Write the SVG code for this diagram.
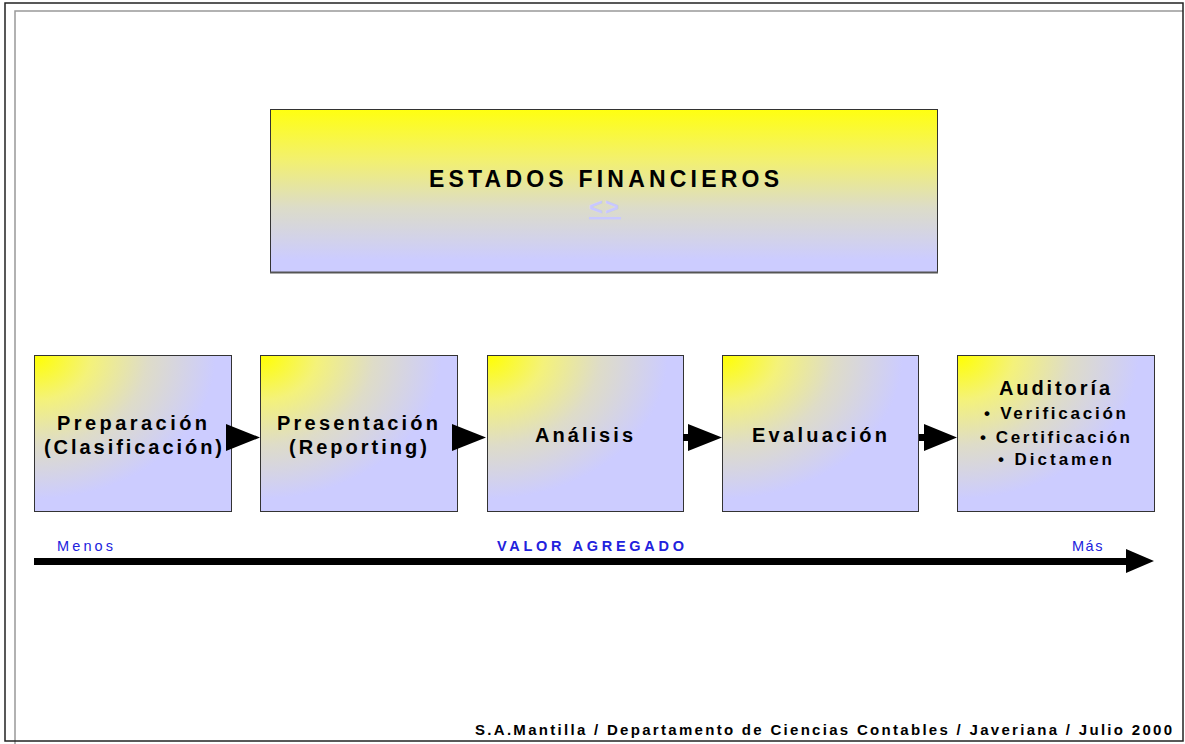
<svg xmlns="http://www.w3.org/2000/svg" width="1185" height="744" viewBox="0 0 1185 744">
<defs>
<style>
text{font-family:"Liberation Sans",Arial,sans-serif;}
.lbl{font-weight:bold;font-size:20px;fill:#000;text-anchor:middle;}
.sub{font-weight:bold;font-size:17px;fill:#000;text-anchor:middle;}
.blue{font-size:14.5px;fill:#2222dd;}
.box{stroke:#333;stroke-width:1;fill:url(#corner);}
.arrow{fill:#000;}
</style>
<linearGradient id="vert" x1="0" y1="0" x2="0" y2="1">
<stop offset="0" stop-color="#ffff10"/>
<stop offset="0.3" stop-color="#f3f16c"/>
<stop offset="0.6" stop-color="#dcdcc8"/>
<stop offset="0.92" stop-color="#ccccff"/>
<stop offset="1" stop-color="#ccccff"/>
</linearGradient>
<radialGradient id="corner" cx="0" cy="0" r="1.15" fx="0" fy="0">
<stop offset="0" stop-color="#ffff00"/>
<stop offset="0.25" stop-color="#f4f27a"/>
<stop offset="0.5" stop-color="#dedcc8"/>
<stop offset="0.8" stop-color="#ccccff"/>
<stop offset="1" stop-color="#ccccff"/>
</radialGradient>
</defs>
<rect x="0" y="0" width="1185" height="744" fill="#fff"/>
<g id="frame" fill="none">
<polyline points="15,744 15,11 1183,11" stroke="#999" stroke-width="1.5"/>
<rect x="5" y="3" width="1178" height="738" stroke="#222" stroke-width="1.5"/>
</g>
<g id="estados">
<rect x="270.5" y="109.5" width="667" height="163" fill="url(#vert)" stroke="#333" stroke-width="1"/>
<line x1="270" y1="272.5" x2="938" y2="272.5" stroke="#555" stroke-width="2"/>
<text x="604" y="187" font-size="23" font-weight="bold" text-anchor="middle" textLength="350" lengthAdjust="spacing">ESTADOS FINANCIEROS</text>
<text x="605" y="215" font-size="24" font-weight="bold" fill="#c8c8ff" text-anchor="middle" text-decoration="underline" letter-spacing="2">&lt;&gt;</text>
</g>
<g id="preparacion">
<rect class="box" x="34.5" y="355.5" width="197" height="156"/>
<text class="lbl" x="132" y="430" textLength="150" lengthAdjust="spacing">Preparación</text>
<text class="lbl" x="133" y="454" textLength="178" lengthAdjust="spacing">(Clasificación)</text>
</g>
<g id="presentacion">
<rect class="box" x="260.5" y="355.5" width="197" height="156"/>
<text class="lbl" x="357.5" y="430" textLength="161" lengthAdjust="spacing">Presentación</text>
<text class="lbl" x="358" y="454" textLength="138" lengthAdjust="spacing">(Reporting)</text>
</g>
<g id="analisis">
<rect class="box" x="487.5" y="355.5" width="196" height="156"/>
<text class="lbl" x="584" y="442" textLength="98" lengthAdjust="spacing">Análisis</text>
</g>
<g id="evaluacion">
<rect class="box" x="722.5" y="355.5" width="196" height="156"/>
<text class="lbl" x="819.5" y="442" textLength="135" lengthAdjust="spacing">Evaluación</text>
</g>
<g id="auditoria">
<rect class="box" x="957.5" y="355.5" width="197" height="156"/>
<text class="lbl" x="1054.5" y="395" textLength="111" lengthAdjust="spacing">Auditoría</text>
<text class="sub" x="1055" y="419" textLength="142" lengthAdjust="spacing">• Verificación</text>
<text class="sub" x="1055" y="443" textLength="150" lengthAdjust="spacing">• Certificación</text>
<text class="sub" x="1055" y="465" textLength="114" lengthAdjust="spacing">• Dictamen</text>
</g>
<g id="connectors">
<polygon class="arrow" points="226,424 260,437.5 226,451"/>
<polygon class="arrow" points="452,424 486,437.5 452,451"/>
<polygon class="arrow" points="683,434 688,434 688,424 722,437.5 688,451 688,441 683,441"/>
<polygon class="arrow" points="919,434 924,434 924,424 957,437.5 924,451 924,441 919,441"/>
<polygon class="arrow" points="34,558 1126,558 1126,549 1154,561 1126,573 1126,565 34,565"/>
</g>
<g id="scale">
<text class="blue" x="57" y="551" textLength="56" lengthAdjust="spacing">Menos</text>
<text class="blue" x="590.5" y="551" font-weight="bold" text-anchor="middle" textLength="187" lengthAdjust="spacing" fill="#1515cc">VALOR AGREGADO</text>
<text class="blue" x="1072" y="551" font-size="14" letter-spacing="1.5">Más</text>
</g>
<g id="footer">
<text x="1172" y="735" font-size="15" font-weight="bold" text-anchor="end" textLength="697" lengthAdjust="spacing">S.A.Mantilla / Departamento de Ciencias Contables / Javeriana / Julio 2000</text>
</g>
</svg>
